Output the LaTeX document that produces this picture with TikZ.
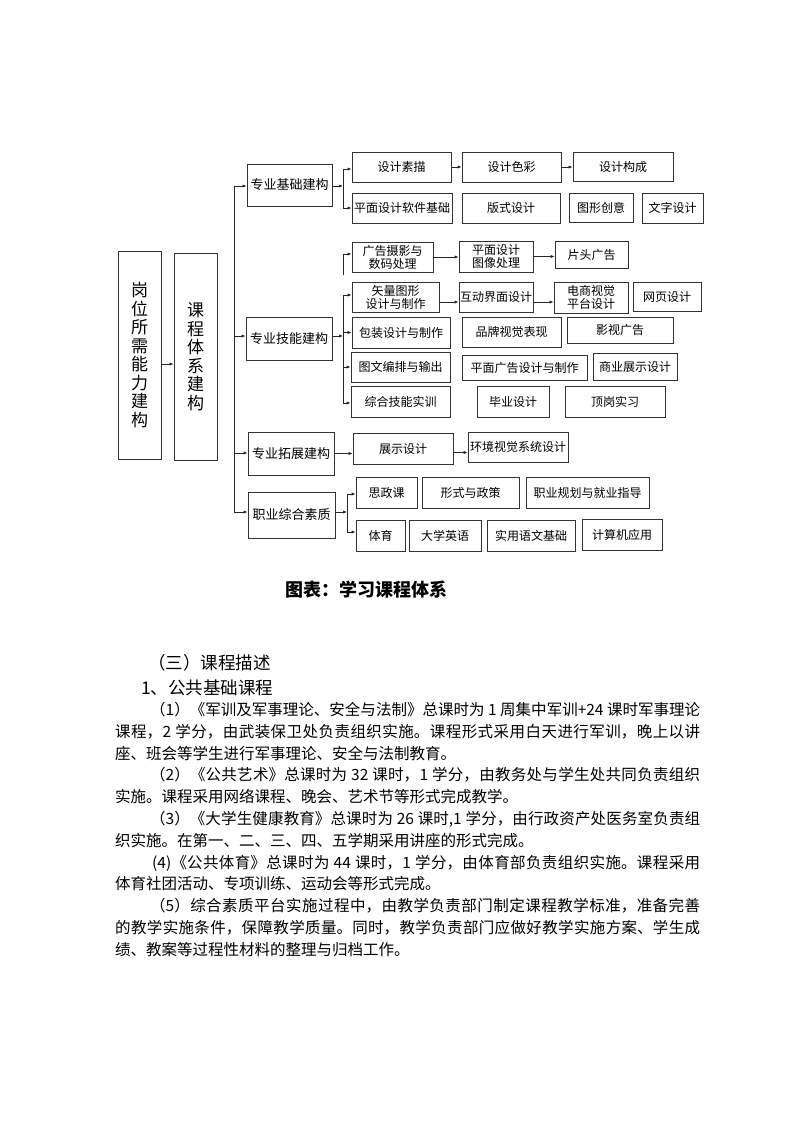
\documentclass[tikz,border=0pt]{standalone}
\usepackage{fontspec}
\setmainfont{Noto Sans CJK SC}
\usetikzlibrary{arrows.meta}
\XeTeXlinebreaklocale "zh"
\XeTeXlinebreakskip=0pt plus 1pt

\tikzset{
  box/.style={draw=black!80, line width=0.8pt, inner sep=0pt, align=center,
    font=\fontsize{12}{13}\selectfont},
  big/.style={box, font=\fontsize{17}{18.5}\selectfont},
  mid/.style={box, font=\fontsize{13}{15}\selectfont},
  wh/.style n args={2}{minimum width=#1pt, minimum height=#2pt},
  ln/.style={line width=0.7pt, black!85},
  arr/.style={ln, -{Latex[length=4pt, width=3.2pt]}},
  head/.style={anchor=west, inner sep=0pt, font=\fontsize{17.5}{19}\selectfont}
}

\begin{document}
\begin{tikzpicture}[x=1pt, y=-1pt]

  % page
  \fill[white] (0,0) rectangle (793,1122);
  \useasboundingbox (0,0) rectangle (793,1122);

  % left columns
  \node[big, wh={43}{208}] (gw) at (139.5,355) {岗\\位\\所\\需\\能\\力\\建\\构};
  \node[big, wh={43}{207}] (kc) at (195.5,356.5) {课\\程\\体\\系\\建\\构};
  \draw[arr] ([yshift=-9pt]gw.east) -- ([yshift=-9pt]gw.east -| kc.west);

  % second level
  \node[mid, wh={85}{42}] (jc) at (289.5,185) {专业基础建构};
  \node[mid, wh={86}{43}] (jn) at (289,338.5) {专业技能建构};
  \node[mid, wh={86}{43}] (tz) at (291,453.5) {专业拓展建构};
  \node[mid, wh={87}{46}] (zh) at (291.5,515) {职业综合素质};

  % trunk
  \coordinate (t1) at (234,186);
  \coordinate (t2) at (234,336);
  \coordinate (t3) at (234,453);
  \coordinate (t4) at (234,512);
  \draw[ln] (t1) -- (t4);
  \draw[arr] (t1) -- (t1 -| jc.west);
  \draw[arr] (t2) -- (t2 -| jn.west);
  \draw[arr] (t3) -- (t3 -| tz.west);
  \draw[arr] (t4) -- (t4 -| zh.west);

  % 专业基础建构
  \node[box, wh={99}{30}]  (sm) at (401.5,167) {设计素描};
  \node[box, wh={99}{30}]  (sc) at (511.5,167) {设计色彩};
  \node[box, wh={100}{29}] (gc) at (623,166.5) {设计构成};
  \node[box, wh={100}{30}] (rj) at (402,208) {平面设计软件基础};
  \node[box, wh={98}{30}]  (bs) at (511,208) {版式设计};
  \node[box, wh={64}{29}]  (tx) at (601,207.5) {图形创意};
  \node[box, wh={61}{30}]  (wz) at (672.5,208) {文字设计};

  \coordinate (b1) at (343,186);
  \coordinate (b1t) at (343,169);
  \coordinate (b1b) at (343,208);
  \draw[arr] (jc.east |- b1) -- (b1);
  \draw[ln] (b1t) -- (b1b);
  \draw[arr] (b1t) -- (b1t -| sm.west);
  \draw[arr] (b1b) -- (b1b -| rj.west);
  \draw[arr] (sm.east) -- (sm.east -| sc.west);
  \draw[arr] (sc.east) -- (sc.east -| gc.west);

  % 专业技能建构
  \node[box, wh={81}{30}]  (gg) at (392.5,257) {广告摄影与\\数码处理};
  \node[box, wh={74}{31}]  (tp) at (496,256.5) {平面设计\\图像处理};
  \node[box, wh={73}{27}]  (pt) at (591.5,254.5) {片头广告};
  \node[box, wh={87}{30}]  (sl) at (395.5,297) {矢量图形\\设计与制作};
  \node[box, wh={74}{30}]  (hd) at (496,297) {互动界面设计};
  \node[box, wh={74}{31}]  (ds) at (591,297.5) {电商视觉\\平台设计};
  \node[box, wh={68}{29}]  (wy) at (667,296.5) {网页设计};
  \node[box, wh={98}{31}]  (bz) at (401,332.5) {包装设计与制作};
  \node[box, wh={99}{30}]  (pp) at (511.5,332) {品牌视觉表现};
  \node[box, wh={106}{26}] (ys) at (620,330) {影视广告};
  \node[box, wh={99}{30}]  (tw) at (400.5,367) {图文编排与输出};
  \node[box, wh={125}{25}] (pm) at (524.5,367.5) {平面广告设计与制作};
  \node[box, wh={84}{27}]  (sy) at (635,366.5) {商业展示设计};
  \node[box, wh={99}{31}]  (zj) at (400.5,401.5) {综合技能实训};
  \node[box, wh={72}{31}]  (by) at (513,401.5) {毕业设计};
  \node[box, wh={100}{31}] (dg) at (615,401.5) {顶岗实习};

  \coordinate (s1) at (343,275);
  \coordinate (s2) at (343,254);
  \draw[arr] (s1) -- (s2) -- (s2 -| gg.west);
  \draw[arr] (gg.east) -- (gg.east -| tp.west);
  \draw[arr] (tp.east) -- (tp.east -| pt.west);

  \coordinate (b2) at (343,336);
  \coordinate (b2t) at (343,295);
  \coordinate (b2b) at (343,403);
  \draw[arr] (jn.east |- b2) -- (b2);
  \draw[ln] (b2t) -- (b2b);
  \draw[arr] (b2t) -- (b2t -| sl.west);
  \draw[arr] (bz.west -| b2) -- (bz.west);
  \draw[arr] (tw.west -| b2) -- (tw.west);
  \draw[arr] (b2b) -- (b2b -| zj.west);
  \draw[arr] ([yshift=-5pt]sl.east) -- ([yshift=-5pt]sl.east -| hd.west);
  \draw[arr] ([yshift=-5pt]hd.east) -- ([yshift=-5pt]hd.east -| ds.west);

  % 专业拓展建构
  \node[box, wh={100}{31}] (zs) at (403,448.5) {展示设计};
  \node[box, wh={100}{30}] (hj) at (518,447) {环境视觉系统设计};
  \draw[arr] (tz.east) -- (tz.east -| zs.west);
  \draw[arr] ([yshift=-4pt]zs.east) -- ([yshift=-4pt]zs.east -| hj.west);

  % 职业综合素质
  \node[box, wh={61}{31}]  (sz) at (386.5,492.5) {思政课};
  \node[box, wh={97}{31}]  (xs) at (470.5,492.5) {形式与政策};
  \node[box, wh={123}{31}] (zy) at (587.5,492.5) {职业规划与就业指导};
  \node[box, wh={49}{31}]  (ty) at (380.5,535.5) {体育};
  \node[box, wh={72}{31}]  (dx) at (445,535.5) {大学英语};
  \node[box, wh={88}{31}]  (yw) at (531,535.5) {实用语文基础};
  \node[box, wh={80}{31}]  (js) at (622,534.5) {计算机应用};

  \coordinate (b4) at (347,512);
  \coordinate (b4t) at (347,494);
  \coordinate (b4b) at (347,532);
  \draw[arr] (zh.east |- b4) -- (b4);
  \draw[ln] (b4t) -- (b4b);
  \draw[arr] (b4t) -- (b4t -| sz.west);
  \draw[arr] (b4b) -- (b4b -| ty.west);

  % caption and text
  \node[inner sep=0pt, font=\fontsize{18}{20}\selectfont\bfseries] (cap) at (366,590) {图表：学习课程体系};
  \node[head] (h3) at (148,663) {（三）课程描述};
  \node[head] (h1) at (141,688) {1、公共基础课程};

  \node[anchor=base west, inner sep=0pt, text width=585pt, align=justify,
    font=\fontsize{15.5}{21.8}\selectfont] (ms) at (115,715.5) {%
    \parindent=0pt\tolerance=10000%
    \hspace*{35pt}（1）《军训及军事理论、安全与法制》总课时为 1 周集中军训+24 课时军事理论\linebreak
    课程，2 学分，由武装保卫处负责组织实施。课程形式采用白天进行军训，晚上以讲\linebreak
    座、班会等学生进行军事理论、安全与法制教育。\par
    \hspace*{35pt}（2）《公共艺术》总课时为 32 课时，1 学分，由教务处与学生处共同负责组织\linebreak
    实施。课程采用网络课程、晚会、艺术节等形式完成教学。\par
    \hspace*{35pt}（3）《大学生健康教育》总课时为 26 课时,1 学分，由行政资产处医务室负责组\linebreak
    织实施。在第一、二、三、四、五学期采用讲座的形式完成。\par
    \hspace*{37pt}(4)《公共体育》总课时为 44 课时，1 学分，由体育部负责组织实施。课程采用\linebreak
    体育社团活动、专项训练、运动会等形式完成。\par
    \hspace*{35pt}（5）综合素质平台实施过程中，由教学负责部门制定课程教学标准，准备完善\linebreak
    的教学实施条件，保障教学质量。同时，教学负责部门应做好教学实施方案、学生成\linebreak
    绩、教案等过程性材料的整理与归档工作。\par};
\end{tikzpicture}
\end{document}
